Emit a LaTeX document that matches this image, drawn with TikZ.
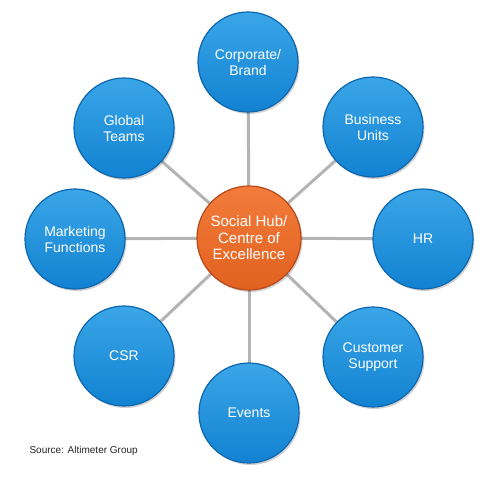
\documentclass[tikz,border=0pt]{standalone}
\usepackage{fontspec}
\setmainfont{Liberation Sans}
\definecolor{bluetop}{HTML}{3AA6E8}
\definecolor{bluebot}{HTML}{1282D1}
\definecolor{bluerim}{HTML}{0C67AF}
\definecolor{orgtop}{HTML}{F27C3C}
\definecolor{orgbot}{HTML}{E2611E}
\definecolor{orgrim}{HTML}{B94819}
\definecolor{spoke}{HTML}{B4B4B4}
\begin{document}
\begin{tikzpicture}[x=1pt,y=-1pt,
  bub/.style={circle, minimum size=100pt, inner sep=0pt, top color=bluetop,
    bottom color=bluebot, draw=bluerim, line width=1.2pt, text=white,
    font=\fontsize{14}{16}\selectfont, align=center,
    preaction={fill=black, opacity=0.18, transform canvas={shift={(1.5pt,-2pt)}}}},
  hubst/.style={bub, minimum size=104pt, top color=orgtop, bottom color=orgbot,
    draw=orgrim, font=\fontsize{15}{16.5}\selectfont},
  spk/.style={draw=spoke, line width=3pt},
  src/.style={anchor=west, font=\fontsize{10}{12}\selectfont, text=black!85}]
\fill[white] (0,0) rectangle (500,482);
\useasboundingbox (0,0) rectangle (500,482);
\coordinate (hc) at (249,238);
\coordinate (c1) at (248,62);
\coordinate (c2) at (373,127);
\coordinate (c3) at (423,239);
\coordinate (c4) at (373,357);
\coordinate (c5) at (249,413);
\coordinate (c6) at (124,356);
\coordinate (c7) at (75,239);
\coordinate (c8) at (124,128);
\foreach \i in {1,...,8} \draw[spk] (hc) -- (c\i);
\node[hubst] (hub) at (hc) {Social Hub/\\Centre of\\Excellence};
\node[bub] (corp) at (c1) {Corporate/\\Brand};
\node[bub] (bu) at (c2) {Business\\Units};
\node[bub] (hr) at (c3) {HR};
\node[bub] (cs) at (c4) {Customer\\Support};
\node[bub] (ev) at (c5) {Events};
\node[bub] (csr) at (c6) {CSR};
\node[bub] (mf) at (c7) {Marketing\\Functions};
\node[bub] (gt) at (c8) {Global\\Teams};
\node[src] (source) at (26,451) {Source: Altimeter Group};
\end{tikzpicture}
\end{document}
